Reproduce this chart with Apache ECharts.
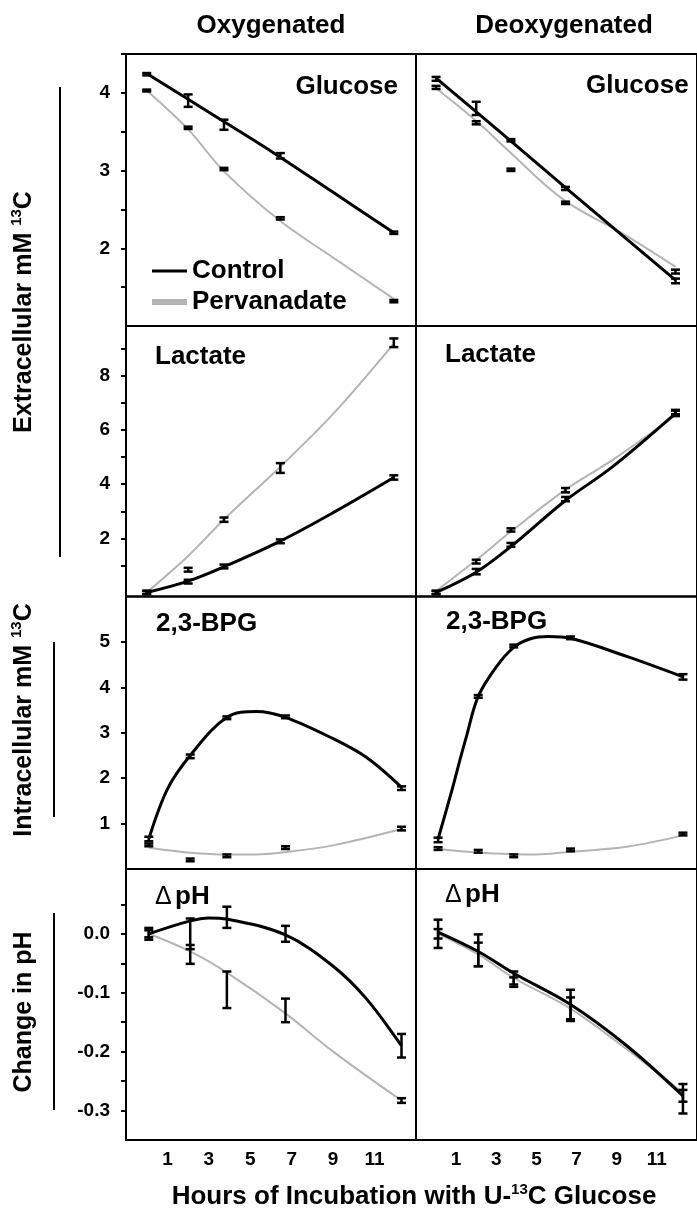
<!DOCTYPE html>
<html><head><meta charset="utf-8">
<script src="https://cdn.jsdelivr.net/npm/echarts@6/dist/echarts.min.js"></script>
<style>html,body{margin:0;padding:0;background:#fff}#c{width:697px;height:1211px}</style>
</head><body><div id="c"></div>
<script>
// ---------- DATA ----------
const timesMedium = [0, 2, 3.73, 6.45, 11.93];
const timesCell = [0.1, 2.1, 3.87, 6.7, 12.3];

// Glucose (extracellular mM)
const gluOxyCtrl = [4.24, 3.90, 3.59, 3.19, 2.20];
const gluOxyCtrlErr = [0.015, 0.08, 0.065, 0.035, 0.015];
const gluOxyPerv = [4.03, 3.55, 3.02, 2.385, 1.32];
const gluOxyPervErr = [0.012, 0.015, 0.015, 0.015, 0.015];
const gluOxyCtrlFit = [[0, 4.25], [3, 3.75], [6, 3.25], [9, 2.72], [11.93, 2.20]];
const gluOxyPervFit = [[0, 4.03], [2, 3.53], [3.73, 2.99], [6.45, 2.35], [9, 1.88], [11.93, 1.35]];

const gluDeoCtrl = [4.18, 3.80, 3.39, 2.77, 1.58];
const gluDeoCtrlErr = [0.025, 0.085, 0.015, 0.02, 0.03];
const gluDeoPerv = [4.07, 3.615, 3.01, 2.585, 1.70];
const gluDeoPervErr = [0.02, 0.02, 0.015, 0.015, 0.025];
const gluDeoCtrlFit = [[0, 4.19], [3.73, 3.38], [6.45, 2.78], [11.93, 1.59]];
const gluDeoPervFit = [[0, 4.06], [2, 3.64], [3.54, 3.27], [6.33, 2.63], [9.49, 2.16], [11.93, 1.76]];

// Lactate (extracellular mM)
const lacOxyCtrl = [0.0, 0.40, 0.96, 1.89, 4.25];
const lacOxyCtrlErr = [0.06, 0.07, 0.07, 0.07, 0.08];
const lacOxyPerv = [0.0, 0.84, 2.69, 4.60, 9.23];
const lacOxyPervErr = [0.06, 0.07, 0.08, 0.18, 0.16];
const lacOxyCtrlFit = [[0, 0], [2, 0.42], [3.73, 0.95], [6.45, 1.9], [9, 2.95], [11.93, 4.25]];
const lacOxyPervFit = [[0, 0], [2, 1.35], [3.73, 2.7], [6.45, 4.65], [9, 6.6], [11.93, 9.2]];

const lacDeoCtrl = [0.0, 0.77, 1.76, 3.45, 6.62];
const lacDeoCtrlErr = [0.06, 0.1, 0.07, 0.08, 0.1];
const lacDeoPerv = [0.0, 1.14, 2.31, 3.78, 6.67];
const lacDeoPervErr = [0.06, 0.07, 0.06, 0.08, 0.08];
const lacDeoCtrlFit = [[0, 0], [2, 0.75], [3.73, 1.7], [6.45, 3.4], [8.8, 4.65], [11.93, 6.62]];
const lacDeoPervFit = [[0, 0.05], [2, 1.2], [3.73, 2.25], [6.45, 3.8], [8.8, 4.9], [11.93, 6.55]];

// 2,3-BPG (intracellular mM)
const bpgOxyCtrl = [0.66, 2.48, 3.33, 3.35, 1.78];
const bpgOxyCtrlErr = [0.05, 0.04, 0.03, 0.03, 0.04];
const bpgOxyPerv = [0.53, 0.20, 0.29, 0.47, 0.89];
const bpgOxyPervErr = [0.03, 0.03, 0.03, 0.03, 0.04];
const bpgOxyCtrlFit = [[0.1, 0.66], [1.0, 1.76], [2.1, 2.5], [3.87, 3.34], [5.3, 3.47], [6.7, 3.34], [9, 2.87], [10.6, 2.46], [12.3, 1.8]];
const bpgOxyPervFit = [[0.1, 0.47], [2.1, 0.36], [3.87, 0.32], [5.3, 0.32], [6.7, 0.37], [9, 0.52], [12.3, 0.88]];

const bpgDeoCtrl = [0.64, 3.80, 4.91, 5.09, 4.23];
const bpgDeoCtrlErr = [0.05, 0.03, 0.03, 0.03, 0.06];
const bpgDeoPerv = [0.45, 0.39, 0.29, 0.42, 0.77];
const bpgDeoPervErr = [0.03, 0.03, 0.03, 0.03, 0.03];
const bpgDeoCtrlFit = [[0.1, 0.66], [0.8, 1.75], [1.2, 2.42], [1.5, 2.9], [2.1, 3.8], [3.0, 4.45], [3.87, 4.88], [4.7, 5.07], [5.6, 5.12], [6.7, 5.08], [9.5, 4.68], [12.3, 4.23]];
const bpgDeoPervFit = [[0.1, 0.44], [2.1, 0.36], [5.0, 0.32], [6.7, 0.38], [9.5, 0.49], [12.3, 0.74]];

// Change in pH
const phOxyCtrl = [0.0, 0.0, 0.028, 0.0, -0.19];
const phOxyCtrlErr = [0.01, 0.026, 0.018, 0.0135, 0.02];
const phOxyPerv = [0.0, -0.035, -0.095, -0.13, -0.283];
const phOxyPervErr = [0.006, 0.016, 0.031, 0.02, 0.004];
const phOxyCtrlFit = [[0.1, 0], [2.1, 0.022], [3.0, 0.027], [3.87, 0.025], [6.7, -0.002], [9, -0.055], [10.6, -0.11], [12.3, -0.19]];
const phOxyPervFit = [[0.1, 0], [2.1, -0.03], [3.87, -0.066], [6.7, -0.135], [9, -0.2], [12.3, -0.283]];

const phDeoCtrl = [0.0, -0.028, -0.075, -0.12, -0.28];
const phDeoCtrlErr = [0.024, 0.027, 0.011, 0.025, 0.025];
const phDeoPerv = [0.0, -0.035, -0.082, -0.128, -0.275];
const phDeoPervErr = [0.008, 0.02, 0.008, 0.02, 0.01];
const phDeoCtrlFit = [[0.1, 0.003], [2.1, -0.03], [3.87, -0.067], [6.7, -0.12], [9.5, -0.19], [12.3, -0.275]];
const phDeoPervFit = [[0.1, 0.0], [2.1, -0.035], [3.87, -0.075], [6.7, -0.127], [9.5, -0.196], [12.3, -0.27]];

// Tick values / labels
const gluTicks = [1.5, 2, 2.5, 3, 3.5, 4, 4.5];
const gluLabels = [2, 3, 4];
const lacTicks = [1, 2, 3, 4, 5, 6, 7, 8, 9];
const lacLabels = [2, 4, 6, 8];
const bpgTicks = [1, 2, 3, 4, 5];
const bpgLabels = [1, 2, 3, 4, 5];
const phTicks = [-0.3, -0.25, -0.2, -0.15, -0.1, -0.05, 0, 0.05];
const phLabels = [-0.3, -0.2, -0.1, 0];
const xLabels = [1, 3, 5, 7, 9, 11];

const colTitles = ['Oxygenated', 'Deoxygenated'];
const panelNames = ['Glucose', 'Lactate', '2,3-BPG', 'pH'];

// ---------- LAYOUT ----------
const FONT = '"Liberation Sans", Arial, sans-serif';
const colLeft = [126, 416];
const colWidth = 290;
const rowTop = [54, 326, 596.5, 869];
const rowHeight = [272, 270.5, 272.5, 271];
const GRAY = '#b4b4b4';

const rowsY = [
  {min: 1, max: 4.5, ticks: gluTicks, labels: gluLabels, fmt: v => String(v)},
  {min: -0.15, max: 9.85, ticks: lacTicks, labels: lacLabels, fmt: v => String(v)},
  {min: 0, max: 6, ticks: bpgTicks, labels: bpgLabels, fmt: v => String(v)},
  {min: -0.35, max: 0.11, ticks: phTicks, labels: phLabels, fmt: v => v.toFixed(1)}
];

const panels = [
  {t: timesMedium, c: gluOxyCtrl, ce: gluOxyCtrlErr, p: gluOxyPerv, pe: gluOxyPervErr, cf: gluOxyCtrlFit, pf: gluOxyPervFit},
  {t: timesMedium, c: gluDeoCtrl, ce: gluDeoCtrlErr, p: gluDeoPerv, pe: gluDeoPervErr, cf: gluDeoCtrlFit, pf: gluDeoPervFit},
  {t: timesMedium, c: lacOxyCtrl, ce: lacOxyCtrlErr, p: lacOxyPerv, pe: lacOxyPervErr, cf: lacOxyCtrlFit, pf: lacOxyPervFit},
  {t: timesMedium, c: lacDeoCtrl, ce: lacDeoCtrlErr, p: lacDeoPerv, pe: lacDeoPervErr, cf: lacDeoCtrlFit, pf: lacDeoPervFit},
  {t: timesCell, c: bpgOxyCtrl, ce: bpgOxyCtrlErr, p: bpgOxyPerv, pe: bpgOxyPervErr, cf: bpgOxyCtrlFit, pf: bpgOxyPervFit},
  {t: timesCell, c: bpgDeoCtrl, ce: bpgDeoCtrlErr, p: bpgDeoPerv, pe: bpgDeoPervErr, cf: bpgDeoCtrlFit, pf: bpgDeoPervFit},
  {t: timesCell, c: phOxyCtrl, ce: phOxyCtrlErr, p: phOxyPerv, pe: phOxyPervErr, cf: phOxyCtrlFit, pf: phOxyPervFit},
  {t: timesCell, c: phDeoCtrl, ce: phDeoCtrlErr, p: phDeoPerv, pe: phDeoPervErr, cf: phDeoCtrlFit, pf: phDeoPervFit}
];

function renderErr(params, api) {
  const x = api.value(0), y = api.value(1), e = api.value(2);
  const lo = api.coord([x, y - e]);
  const hi = api.coord([x, y + e]);
  const hw = 4.5;
  const st = {stroke: '#000', lineWidth: 2.5};
  return {type: 'group', children: [
    {type: 'line', shape: {x1: lo[0], y1: lo[1], x2: hi[0], y2: hi[1]}, style: st},
    {type: 'line', shape: {x1: lo[0] - hw, y1: lo[1], x2: lo[0] + hw, y2: lo[1]}, style: st},
    {type: 'line', shape: {x1: hi[0] - hw, y1: hi[1], x2: hi[0] + hw, y2: hi[1]}, style: st}
  ]};
}

const grid = [], xAxis = [], yAxis = [], series = [];
panels.forEach((pn, i) => {
  const row = Math.floor(i / 2), col = i % 2;
  const ry = rowsY[row];
  grid.push({left: colLeft[col], top: rowTop[row], width: colWidth, height: rowHeight[row],
    show: true, borderColor: '#000', borderWidth: 2, backgroundColor: 'transparent'});
  xAxis.push({type: 'value', gridIndex: i, min: -1, max: 13, position: 'bottom',
    axisLine: {show: false, onZero: false}, axisTick: {show: false}, splitLine: {show: false},
    axisLabel: (row === 3) ? {show: true, customValues: xLabels, margin: 10,
      fontSize: 19, fontWeight: 'bold', fontFamily: FONT, color: '#000'} : {show: false}});
  yAxis.push({type: 'value', gridIndex: i, min: ry.min, max: ry.max, position: 'left',
    axisLine: {show: false, onZero: false}, splitLine: {show: false},
    axisTick: col === 0 ? {show: true, customValues: ry.ticks, length: 5, inside: false,
      lineStyle: {color: '#000', width: 2}} : {show: false},
    axisLabel: col === 0 ? {show: true, customValues: ry.labels, margin: 16, formatter: ry.fmt,
      fontSize: 19, fontWeight: 'bold', fontFamily: FONT, color: '#000'} : {show: false}});
  series.push({type: 'line', name: 'Pervanadate', xAxisIndex: i, yAxisIndex: i, data: pn.pf,
    showSymbol: false, smooth: 0.35, color: GRAY,
    lineStyle: {color: GRAY, width: 2}, z: 2, silent: true});
  series.push({type: 'line', name: 'Control', xAxisIndex: i, yAxisIndex: i, data: pn.cf,
    showSymbol: false, smooth: 0.35, color: '#000',
    lineStyle: {color: '#000', width: 3}, z: 3, silent: true});
  series.push({type: 'custom', name: 'errP' + i, xAxisIndex: i, yAxisIndex: i,
    data: pn.t.map((t, k) => [t, pn.p[k], pn.pe[k]]), encode: {x: 0, y: 1},
    renderItem: renderErr, z: 4, silent: true});
  series.push({type: 'custom', name: 'errC' + i, xAxisIndex: i, yAxisIndex: i,
    data: pn.t.map((t, k) => [t, pn.c[k], pn.ce[k]]), encode: {x: 0, y: 1},
    renderItem: renderErr, z: 5, silent: true});
});

const big = {fontSize: 26, fontWeight: 'bold', fontFamily: FONT, fill: '#000'};
function txt(x, y, text, align, extra) {
  return Object.assign({type: 'text', x: x, y: y, z: 10,
    style: Object.assign({text: text, align: align, verticalAlign: 'middle'}, big)}, extra || {});
}
const supRich = {
  a: {fontSize: 25, fontWeight: 'bold', fontFamily: FONT, lineHeight: 30},
  s: {fontSize: 15, fontWeight: 'bold', fontFamily: FONT, verticalAlign: 'top', lineHeight: 30}
};
const supRichX = {
  a: {fontSize: 26, fontWeight: 'bold', fontFamily: FONT, lineHeight: 30},
  s: {fontSize: 15, fontWeight: 'bold', fontFamily: FONT, verticalAlign: 'top', lineHeight: 30}
};
const deltaRich = {d: {fontSize: 25, fontWeight: 'normal', fontFamily: FONT}, a: {fontSize: 26, fontWeight: 'bold', fontFamily: FONT}};
const graphic = [
  txt(271, 26, colTitles[0], 'center'),
  txt(564, 26, colTitles[1], 'center'),
  txt(398, 87, panelNames[0], 'right'),
  txt(586, 86, panelNames[0], 'left'),
  txt(155, 357, panelNames[1], 'left'),
  txt(445, 355, panelNames[1], 'left'),
  txt(156, 624, panelNames[2], 'left'),
  txt(446, 622, panelNames[2], 'left'),
  {type: 'text', x: 155, y: 897, z: 10, style: {text: '{d|\u0394} {a|' + panelNames[3] + '}', align: 'left', verticalAlign: 'middle', rich: deltaRich}},
  {type: 'text', x: 445, y: 895, z: 10, style: {text: '{d|\u0394} {a|' + panelNames[3] + '}', align: 'left', verticalAlign: 'middle', rich: deltaRich}},
  {type: 'text', x: 24, y: 312, rotation: Math.PI / 2, z: 10,
    style: {text: '{a|Extracellular mM }{s|13}{a|C}', align: 'center', verticalAlign: 'middle', rich: supRich}},
  {type: 'text', x: 24, y: 720, rotation: Math.PI / 2, z: 10,
    style: {text: '{a|Intracellular mM }{s|13}{a|C}', align: 'center', verticalAlign: 'middle', rich: supRich}},
  {type: 'text', x: 24, y: 1012, rotation: Math.PI / 2, z: 10,
    style: {text: '{a|Change in pH}', align: 'center', verticalAlign: 'middle', rich: supRich}},
  {type: 'text', x: 414, y: 1197, z: 10,
    style: {text: '{a|Hours of Incubation with U-}{s|13}{a|C Glucose}', align: 'center', verticalAlign: 'middle', rich: supRichX}},
  {type: 'line', shape: {x1: 60, y1: 87, x2: 60, y2: 557}, style: {stroke: '#000', lineWidth: 2}},
  {type: 'line', shape: {x1: 54, y1: 642, x2: 54, y2: 817}, style: {stroke: '#000', lineWidth: 2}},
  {type: 'line', shape: {x1: 54, y1: 913, x2: 54, y2: 1110}, style: {stroke: '#000', lineWidth: 2}}
];

const legendText = {fontSize: 26, fontWeight: 'bold', fontFamily: FONT, color: '#000', lineHeight: 28};
const option = {
  backgroundColor: '#fff',
  animation: false,
  grid, xAxis, yAxis, series, graphic,
  legend: [
    {data: ['Control'], left: 152, top: 257, icon: 'rect', itemWidth: 35, itemHeight: 3,
      selectedMode: false, textStyle: legendText, padding: 0},
    {data: ['Pervanadate'], left: 152, top: 288, icon: 'rect', itemWidth: 35, itemHeight: 6,
      selectedMode: false, textStyle: legendText, padding: 0}
  ]
};
const chart = echarts.init(document.getElementById('c'), null, {renderer: 'canvas'});
chart.setOption(option);
</script>
</body></html>
